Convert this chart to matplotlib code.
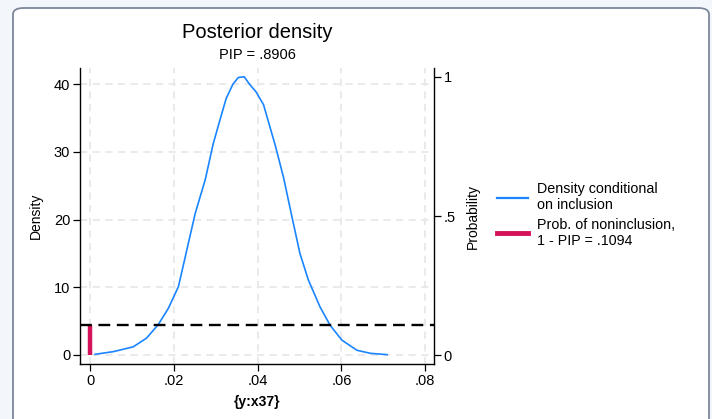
import matplotlib
matplotlib.use("Agg")
import matplotlib.pyplot as plt
from matplotlib.patches import FancyBboxPatch
from matplotlib.lines import Line2D

plt.rcParams['font.family'] = ['Liberation Sans', 'DejaVu Sans']

# Posterior density of the coefficient
x_vals = [0.0012, 0.0056, 0.0103, 0.0135, 0.0163, 0.0187, 0.0211, 0.0231, 0.0251,
          0.0275, 0.0294, 0.0310, 0.0325, 0.0341, 0.0354, 0.0368, 0.0382, 0.0396,
          0.0414, 0.0442, 0.0462, 0.0482, 0.0501, 0.0521, 0.0549, 0.0573, 0.0601,
          0.0637, 0.0669, 0.0709]
density = [0.1, 0.5, 1.2, 2.5, 4.5, 6.9, 10.1, 15.5, 20.9,
           25.9, 31.2, 34.7, 37.9, 40.0, 41.0, 41.1, 39.9, 38.9,
           37.0, 31.0, 26.2, 20.4, 15.0, 11.1, 7.1, 4.4, 2.2,
           0.7, 0.25, 0.05]
pip = 0.8906
prob_noninc = 0.1094

x_ticks = [0, 0.02, 0.04, 0.06, 0.08]
x_labels = ["0", ".02", ".04", ".06", ".08"]
y_ticks = [0, 10, 20, 30, 40]
p_ticks = [0, 0.5, 1]
p_labels = ["0", ".5", "1"]

blue = "#1a85ff"
red = "#d41159"

fig = plt.figure(figsize=(7.12, 4.19), dpi=100)
fig.patch.set_facecolor("#f3f6fb")
panel = FancyBboxPatch((13 / 712, -0.05), (709 - 13) / 712, (419 - 8) / 419 + 0.05,
                       boxstyle="round,pad=0,rounding_size=0.015",
                       transform=fig.transFigure, facecolor="white",
                       edgecolor="#7d879a", linewidth=1.3, zorder=-10)
fig.patches.append(panel)

ax = fig.add_axes([80 / 712, 1 - 364 / 419, (434 - 80) / 712, (364 - 68) / 419])
ax.set_facecolor("none")
ax2 = ax.twinx()

ax.plot(x_vals, density, color=blue, lw=1.2, zorder=3)
ax2.plot([0, 0], [0, prob_noninc], color=red, lw=3.2, solid_capstyle="butt", zorder=3)
ax2.axhline(prob_noninc, color="black", lw=1.7, ls=(0, (5, 2.8)), zorder=4)

ax.set_xlim(-0.00239, 0.0821)
ax.set_ylim(-1.33, 42.4)
ax2.set_ylim(-0.032, 1.032)

ax.set_xticks(x_ticks)
ax.set_xticklabels(x_labels)
ax.set_yticks(y_ticks)
ax2.set_yticks(p_ticks)
ax2.set_yticklabels(p_labels)

ax.grid(True, color="#e8e8e8", ls=(0, (4, 3)), lw=1.3)
ax.set_axisbelow(True)

for a in (ax, ax2):
    a.spines["top"].set_visible(False)
    a.tick_params(labelsize=10.5, length=5, width=0.9, direction="out", pad=2)
    for s in a.spines.values():
        s.set_linewidth(1.0)
ax.spines["right"].set_visible(False)
ax2.spines["left"].set_visible(False)
ax2.spines["bottom"].set_visible(False)

ax.set_ylabel("Density", fontsize=10, labelpad=8)
ax2.set_ylabel("Probability", fontsize=10, labelpad=7)
ax.set_xlabel("{y:x37}", fontsize=10, fontweight="bold", labelpad=5)

fig.text(257 / 712, 1 - 33 / 419, "Posterior density", fontsize=14.5, ha="center", va="center")
fig.text(257 / 712, 1 - 55 / 419, "PIP = .8906", fontsize=10.5, ha="center", va="center")

handles = [Line2D([], [], color=blue, lw=1.6),
           Line2D([], [], color=red, lw=3.5)]
labels = ["Density conditional\non inclusion",
          "Prob. of noninclusion,\n1 - PIP = .1094"]
fig.legend(handles, labels, loc="center left", bbox_to_anchor=(491 / 712, 1 - 215 / 419),
           frameon=False, fontsize=10.3, handlelength=2.2, handletextpad=0.6,
           labelspacing=0.4, borderaxespad=0)

fig.savefig("out.png", dpi=100, facecolor=fig.get_facecolor())
